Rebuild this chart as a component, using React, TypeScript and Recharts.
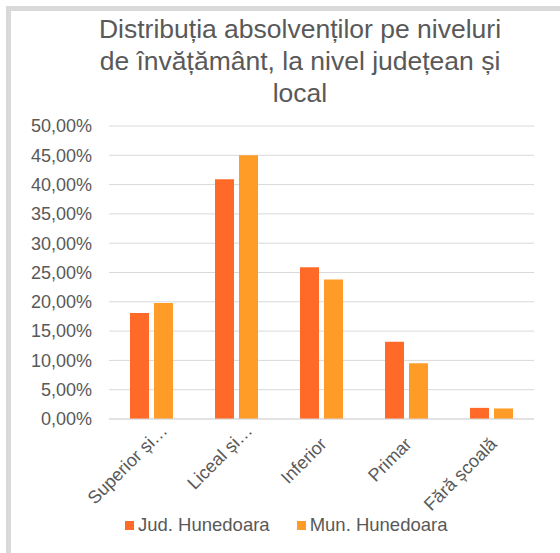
import React from "react";
import { BarChart, Bar, XAxis, YAxis, CartesianGrid, Legend } from "recharts";

const categories = ["Superior și…", "Liceal și…", "Inferior", "Primar", "Fără școală"];
const judValues = [18.1, 40.9, 25.9, 13.2, 1.9];
const munValues = [19.8, 45.0, 23.8, 9.5, 1.8];
const yTicks = [0, 5, 10, 15, 20, 25, 30, 35, 40, 45, 50];
const seriesNames = ["Jud. Hunedoara", "Mun. Hunedoara"];
const titleLines = ["Distribuția absolvenților pe niveluri", "de învățământ, la nivel județean și", "local"];

const COLORS = ["#FF6A28", "#FF9B27"];
const TEXT = "#595959";
const FONT = "'Liberation Sans', Arial, sans-serif";

const data = categories.map((c, i) => ({ name: c, jud: judValues[i], mun: munValues[i] }));

const fmt = (v: number) => v.toFixed(2).replace(".", ",") + "%";

const XTick = (props: any) => {
  const { x, y, payload } = props;
  const truncated = String(payload.value).endsWith("…");
  const along = truncated ? 3 : -14;
  const below = truncated ? 21 : 23;
  return (
    <g transform={`translate(${x}, ${y}) rotate(-45)`}>
      <text x={along} y={below} textAnchor="end" fill={TEXT} fontSize={18} fontFamily={FONT}>
        {payload.value}
      </text>
    </g>
  );
};

const LegendContent = () => (
  <div style={{ display: "flex", justifyContent: "flex-start", paddingLeft: 116, height: 24, alignItems: "center", fontFamily: FONT, fontSize: 18.5, color: TEXT }}>
    {seriesNames.map((n, i) => (
      <div key={n} style={{ display: "flex", alignItems: "center", marginLeft: i ? 27 : 0 }}>
        <span style={{ display: "inline-block", width: 9, height: 9, background: COLORS[i], marginRight: 4 }} />
        <span>{n}</span>
      </div>
    ))}
  </div>
);

export default function App() {
  return (
    <div style={{ position: "absolute", left: 0, top: 0, width: 560, height: 553, background: "#fff", overflow: "hidden", fontFamily: FONT }}>
      <div style={{ position: "absolute", left: 6, top: 6, width: 600, height: 600, borderLeft: "5px solid #d9d9d9", borderTop: "5px solid #d9d9d9" }} />
      <div style={{ position: "absolute", left: 0, top: 13, width: 600, textAlign: "center", fontSize: 26.5, lineHeight: "32px", color: TEXT }}>
        {titleLines.map((l) => (
          <div key={l}>{l}</div>
        ))}
      </div>
      <div style={{ position: "absolute", left: 0, top: 0 }}>
        <BarChart
          width={560}
          height={553}
          data={data}
          margin={{ top: 126, right: 26, bottom: 16, left: 9 }}
          barSize={19}
          barGap={5}
        >
          <CartesianGrid vertical={false} stroke="#d9d9d9" strokeWidth={1} />
          <XAxis
            dataKey="name"
            axisLine={{ stroke: "#d9d9d9", strokeWidth: 1 }}
            tickLine={false}
            tickSize={0}
            tickMargin={0}
            height={94}
            interval={0}
            tick={<XTick />}
          />
          <YAxis
            width={100}
            domain={[0, 50]}
            ticks={yTicks}
            tickFormatter={fmt}
            axisLine={false}
            tickLine={false}
            tickSize={0}
            tickMargin={17}
            tick={{ fill: TEXT, fontSize: 18, fontFamily: FONT }}
          />
          <Legend verticalAlign="bottom" height={24} content={<LegendContent />} />
          <Bar dataKey="jud" name={seriesNames[0]} fill={COLORS[0]} isAnimationActive={false} />
          <Bar dataKey="mun" name={seriesNames[1]} fill={COLORS[1]} isAnimationActive={false} />
        </BarChart>
      </div>
    </div>
  );
}
